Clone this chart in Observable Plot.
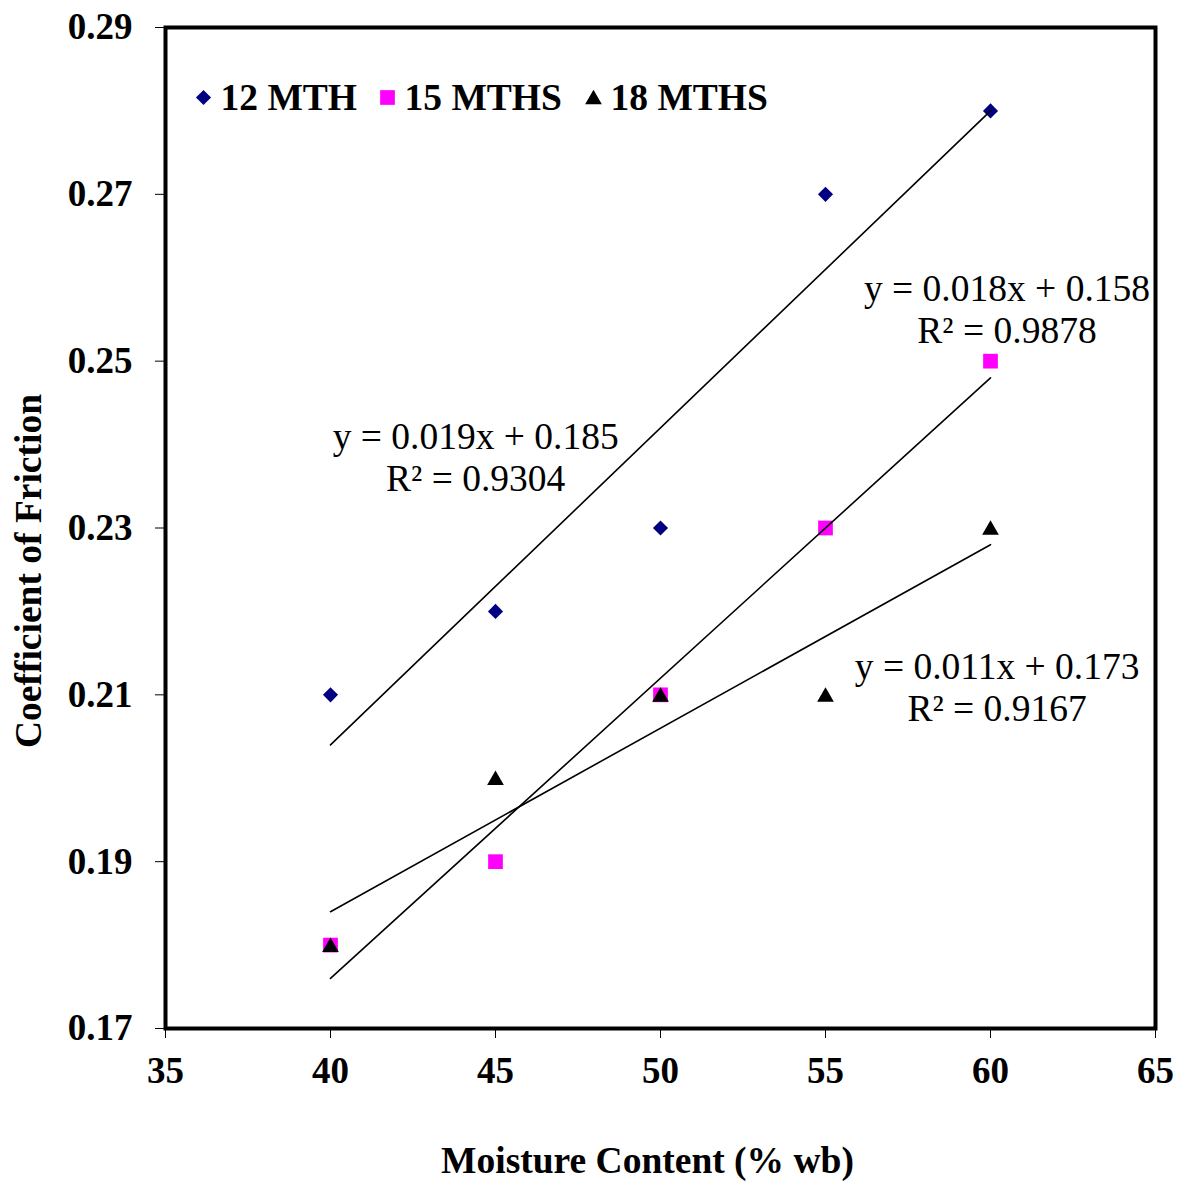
<!DOCTYPE html>
<html>
<head>
<meta charset="utf-8">
<script src="https://cdn.jsdelivr.net/npm/d3@7"></script>
<script src="https://cdn.jsdelivr.net/npm/@observablehq/plot@0.6"></script>
<style>
  html, body { margin: 0; padding: 0; background: white; }
  #chart { position: relative; width: 1183px; height: 1181px; }
</style>
</head>
<body>
<div id="chart"></div>
<script>
// ---- data ----
const moisture = [40, 45, 50, 55, 60];
const mth12 = [0.21, 0.22, 0.23, 0.27, 0.28];
const mth15 = [0.18, 0.19, 0.21, 0.23, 0.25];
const mth18 = [0.18, 0.20, 0.21, 0.21, 0.23];
const seriesNames = ["12 MTH", "15 MTHS", "18 MTHS"];
const xTicks = [35, 40, 45, 50, 55, 60, 65];
const yTicks = [0.17, 0.19, 0.21, 0.23, 0.25, 0.27, 0.29];
// equation label placement (data units)
const labelX = [44.4, 60.5, 60.2];
const labelY = [0.2386, 0.2563, 0.2110];

const seriesValues = [mth12, mth15, mth18];
const colors = ["#000080", "#FF00FF", "#000000"];
const symbols = ["diamond2", "square", "triangle"];
const radii = [6.8, 8.3, 6.2];
const symbolDy = [0, 0, 2];

const tables = seriesValues.map((vals, s) =>
  moisture.map((m, i) => ({x: m, y: vals[i], idx: i + 1, series: seriesNames[s]})));

// least squares fit on point index (as in the spreadsheet trendline)
function fit(rows) {
  const mx = d3.mean(rows, d => d.idx), my = d3.mean(rows, d => d.y);
  let sxy = 0, sxx = 0, syy = 0;
  for (const d of rows) { sxy += (d.idx - mx) * (d.y - my); sxx += (d.idx - mx) ** 2; syy += (d.y - my) ** 2; }
  const b = sxy / sxx, a = my - b * mx;
  const r2 = (b * b * sxx) / syy;
  return {b, a, r2};
}
const labels = tables.map((rows, s) => {
  const f = fit(rows);
  return {
    x: labelX[s], y: labelY[s],
    text: `y = ${f.b.toFixed(3)}x + ${f.a.toFixed(3)}\nR² = ${f.r2.toFixed(4)}`
  };
});

const marks = [];
// points
tables.forEach((rows, s) => {
  marks.push(Plot.dot(rows, {x: "x", y: "y", dy: symbolDy[s], symbol: () => symbols[s], fill: colors[s], stroke: "none", r: radii[s]}));
});
// trend lines
tables.forEach((rows) => {
  marks.push(Plot.linearRegressionY(rows, {x: "x", y: "y", ci: 0, stroke: "black", strokeWidth: 1.6}));
});
// equation labels
marks.push(Plot.text(labels, {x: "x", y: "y", text: "text", fontSize: 37.5, lineHeight: 1.13, lineAnchor: "middle", textAnchor: "middle", fill: "black"}));

// axes
marks.push(Plot.axisX({ticks: xTicks, tickSize: 10, tickPadding: 18, fontSize: 37, fontWeight: "bold", label: null, tickFormat: d3.format("d")}));
marks.push(Plot.axisY({ticks: yTicks, tickSize: 10, tickPadding: 23, fontSize: 37, fontWeight: "bold", label: null, tickFormat: d3.format(".2f")}));
// axis titles
marks.push(Plot.text(["Moisture Content (% wb)"], {frameAnchor: "bottom", dx: -13, dy: 132, fontSize: 37.5, fontWeight: "bold", text: d => d, lineAnchor: "middle"}));
marks.push(Plot.text(["Coefficient of Friction"], {frameAnchor: "left", dx: -137, dy: 43, rotate: -90, fontSize: 37.5, fontWeight: "bold", text: d => d, lineAnchor: "middle", textAnchor: "middle"}));

// legend inside the frame
const legendSymbolDx = [38, 222, 428];
seriesNames.forEach((name, s) => {
  marks.push(Plot.dot([name], {frameAnchor: "top-left", dx: legendSymbolDx[s], dy: 70 + symbolDy[s], symbol: () => symbols[s], fill: colors[s], stroke: "none", r: radii[s]}));
  marks.push(Plot.text([name], {frameAnchor: "top-left", dx: legendSymbolDx[s] + 17, dy: 70, text: d => d, textAnchor: "start", lineAnchor: "middle", fontSize: 37.5, fontWeight: "bold"}));
});

marks.push(Plot.frame({stroke: "black", strokeWidth: 4}));

const chart = Plot.plot({
  width: 1183,
  height: 1181,
  marginLeft: 165,
  marginRight: 28,
  marginTop: 27,
  marginBottom: 153,
  x: {domain: [35, 65]},
  y: {domain: [0.17, 0.29]},
  symbol: {type: "identity"},
  style: {fontFamily: "'Liberation Serif', 'Times New Roman', serif", fontSize: "36px", background: "white", color: "black", overflow: "visible"},
  marks
});
document.getElementById("chart").appendChild(chart);
</script>
</body>
</html>
